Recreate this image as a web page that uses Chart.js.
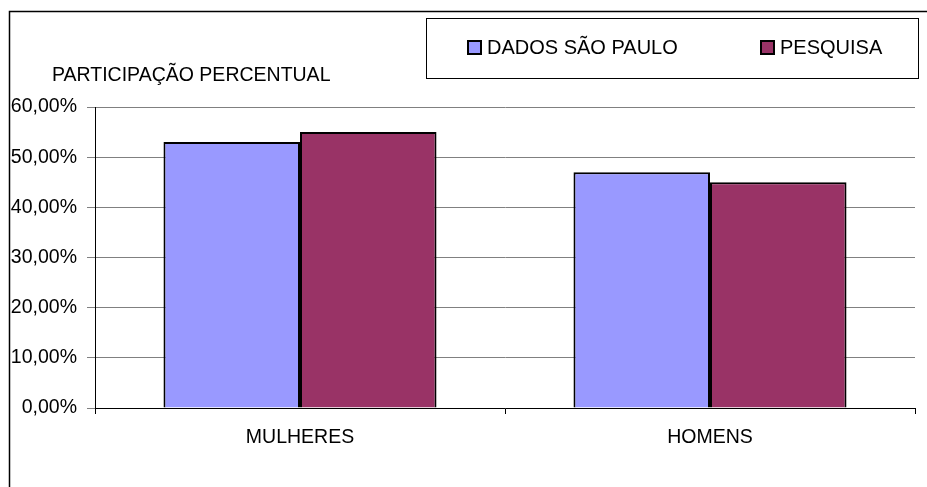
<!DOCTYPE html>
<html>
<head>
<meta charset="utf-8">
<script src="https://cdn.jsdelivr.net/npm/chart.js@4/dist/chart.umd.min.js"></script>
<style>
html,body{margin:0;padding:0;background:#fff;}
canvas{display:block;}
</style>
</head>
<body>
<canvas id="c" width="927" height="487"></canvas>
<script>
const categories = ["MULHERES", "HOMENS"];
const seriesNames = ["DADOS SÃO PAULO", "PESQUISA"];
const dadosSaoPaulo = [53, 47];
const pesquisa = [55, 45];
const yTicks = [0, 10, 20, 30, 40, 50, 60];
const axisTitle = "PARTICIPAÇÃO PERCENTUAL";
const colors = ["#9999FF", "#993366"];

const FONT = "Arial, 'Liberation Sans', sans-serif";
const FS = 19.5;

const framePlugin = {
  id: 'frame',
  afterDraw(chart) {
    const ctx = chart.ctx;
    ctx.save();
    ctx.strokeStyle = '#000';
    ctx.lineWidth = 1.5;
    ctx.strokeRect(9.5, 11.5, 940, 500);
    ctx.lineWidth = 1;
    ctx.strokeRect(426.5, 18.5, 492, 60);
    ctx.font = '20px ' + FONT;
    ctx.textBaseline = 'middle';
    const items = [{x: 468}, {x: 761}];
    chart.data.datasets.forEach((ds, i) => {
      const x = items[i].x;
      ctx.fillStyle = ds.backgroundColor;
      ctx.fillRect(x, 41, 13, 13);
      ctx.strokeStyle = '#000';
      ctx.lineWidth = 2;
      ctx.strokeRect(x, 41, 13, 13);
      ctx.fillStyle = '#000';
      ctx.textAlign = 'left';
      ctx.fillText(ds.label, x + 19, 48);
    });
    ctx.font = FS + 'px ' + FONT;
    ctx.textAlign = 'left';
    ctx.fillText(axisTitle, 52, 76);
    ctx.restore();
  }
};

new Chart(document.getElementById('c'), {
  type: 'bar',
  data: {
    labels: categories,
    datasets: [
      { label: seriesNames[0], data: dadosSaoPaulo, backgroundColor: colors[0], borderColor: '#000', borderWidth: 2 },
      { label: seriesNames[1], data: pesquisa, backgroundColor: colors[1], borderColor: '#000', borderWidth: 2 }
    ]
  },
  options: {
    responsive: false,
    animation: false,
    devicePixelRatio: 1,
    layout: { padding: { left: 0, top: 107, right: 12, bottom: 0 } },
    plugins: { legend: { display: false }, tooltip: { enabled: false }, title: { display: false } },
    datasets: { bar: { categoryPercentage: 0.666, barPercentage: 1 } },
    scales: {
      x: {
        grid: { display: true, drawOnChartArea: false, drawTicks: true, tickLength: 6, color: '#000', offset: true },
        border: { display: true, color: '#000', width: 1 },
        ticks: { color: '#000', font: { family: FONT, size: FS }, padding: 12, maxRotation: 0 },
        afterFit(scale) { scale.height = 79; }
      },
      y: {
        min: 0, max: 60,
        afterBuildTicks(scale) { scale.ticks = yTicks.map(v => ({ value: v })); },
        grid: { color: '#808080', lineWidth: 1, tickLength: 8, drawTicks: true },
        border: { display: true, color: '#000', width: 1 },
        ticks: {
          color: '#000', font: { family: FONT, size: FS }, padding: 10,
          callback: v => v.toFixed(2).replace('.', ',') + '%'
        },
        afterFit(scale) { scale.width = 95; }
      }
    }
  },
  plugins: [framePlugin]
});
</script>
</body>
</html>
